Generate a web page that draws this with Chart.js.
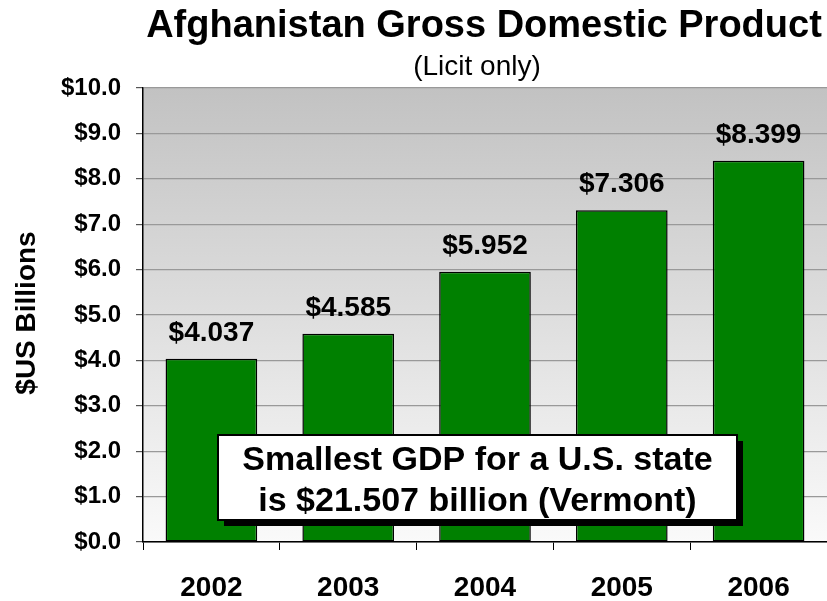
<!DOCTYPE html>
<html>
<head>
<meta charset="utf-8">
<script src="https://cdn.jsdelivr.net/npm/chart.js@4"></script>
<style>
  html, body { margin: 0; padding: 0; background: #fff; }
  #wrap { width: 827px; height: 601px; position: relative; }
</style>
</head>
<body>
<div id="wrap"><canvas id="gdpChart"></canvas></div>
<script>
    // values
    const years = ['2002', '2003', '2004', '2005', '2006'];
    const gdpBillions = [4.037, 4.585, 5.952, 7.306, 8.399];
    const valueLabels = ['$4.037', '$4.585', '$5.952', '$7.306', '$8.399'];
    const titleText = 'Afghanistan Gross Domestic Product';
    const subtitleText = '(Licit only)';
    const axisTitle = '$US Billions';
    const noteLines = ['Smallest GDP for a U.S. state', 'is $21.507 billion (Vermont)'];

    const FONT = 'Arial, "Liberation Sans", sans-serif';

    // gray-to-white fill behind the plot
    const plotBackground = {
        id: 'plotBackground',
        beforeDraw(chart) {
            const { ctx, chartArea: a } = chart;
            const grad = ctx.createLinearGradient(0, a.top, 0, a.bottom);
            grad.addColorStop(0, '#c2c2c2');
            grad.addColorStop(1, '#fafafa');
            ctx.save();
            ctx.fillStyle = grad;
            ctx.fillRect(a.left, a.top, a.right - a.left, a.bottom - a.top);
            ctx.restore();
        }
    };

    // titles, value labels and the note box
    const textLayer = {
        id: 'textLayer',
        afterDatasetsDraw(chart) {
            const { ctx } = chart;
            ctx.save();
            ctx.fillStyle = '#000';
            ctx.textAlign = 'center';
            ctx.textBaseline = 'alphabetic';

            ctx.font = 'bold 38px ' + FONT;
            ctx.fillText(titleText, 484, 37);
            ctx.font = '28px ' + FONT;
            ctx.fillText(subtitleText, 477, 75);

            ctx.save();
            ctx.translate(35, 313);
            ctx.rotate(-Math.PI / 2);
            ctx.font = 'bold 28px ' + FONT;
            ctx.fillText(axisTitle, 0, 0);
            ctx.restore();

            ctx.font = 'bold 28px ' + FONT;
            chart.getDatasetMeta(0).data.forEach((bar, i) => {
                ctx.fillText(valueLabels[i], bar.x, bar.y - 18);
            });

            // note box with drop shadow
            const bx = 218, by = 435, bw = 519, bh = 85;
            ctx.fillStyle = '#000';
            ctx.fillRect(bx + 6, by + 6, bw, bh);
            ctx.fillStyle = '#fff';
            ctx.fillRect(bx, by, bw, bh);
            ctx.strokeStyle = '#000';
            ctx.lineWidth = 2;
            ctx.strokeRect(bx, by, bw, bh);
            ctx.fillStyle = '#000';
            ctx.font = 'bold 34px ' + FONT;
            ctx.fillText(noteLines[0], bx + bw / 2, 470);
            ctx.fillText(noteLines[1], bx + bw / 2, 511);
            ctx.restore();
        }
    };

    const ctx = document.getElementById('gdpChart').getContext('2d');
    new Chart(ctx, {
        type: 'bar',
        data: {
            labels: years,
            datasets: [{
                label: 'GDP',
                data: gdpBillions,
                backgroundColor: '#008000',
                borderColor: '#000',
                borderWidth: 1.5,
                borderSkipped: false,
                barPercentage: 0.67,
                categoryPercentage: 1
            }]
        },
        options: {
            responsive: true,
            maintainAspectRatio: false,
            animation: false,
            layout: { padding: { top: 88, right: 0, left: 0, bottom: 0 } },
            plugins: {
                legend: { display: false },
                tooltip: { enabled: false }
            },
            scales: {
                x: {
                    afterFit(scale) { scale.height = 59; },
                    grid: {
                        drawOnChartArea: false,
                        drawTicks: true,
                        tickLength: 8,
                        tickColor: '#000'
                    },
                    border: { display: true, color: '#000', width: 1.5 },
                    ticks: {
                        padding: 21,
                        color: '#000',
                        font: { family: FONT, size: 28, weight: 'bold' }
                    }
                },
                y: {
                    min: 0,
                    max: 10,
                    afterFit(scale) { scale.width = 143; },
                    grid: {
                        color: '#999',
                        lineWidth: 1.2,
                        tickLength: 7,
                        tickColor: '#555'
                    },
                    border: { display: true, color: '#000', width: 1.5 },
                    ticks: {
                        stepSize: 1,
                        padding: 15,
                        color: '#000',
                        font: { family: FONT, size: 24, weight: 'bold' },
                        callback: v => '$' + Number(v).toFixed(1)
                    }
                }
            }
        },
        plugins: [plotBackground, textLayer]
    });
</script>
</body>
</html>
